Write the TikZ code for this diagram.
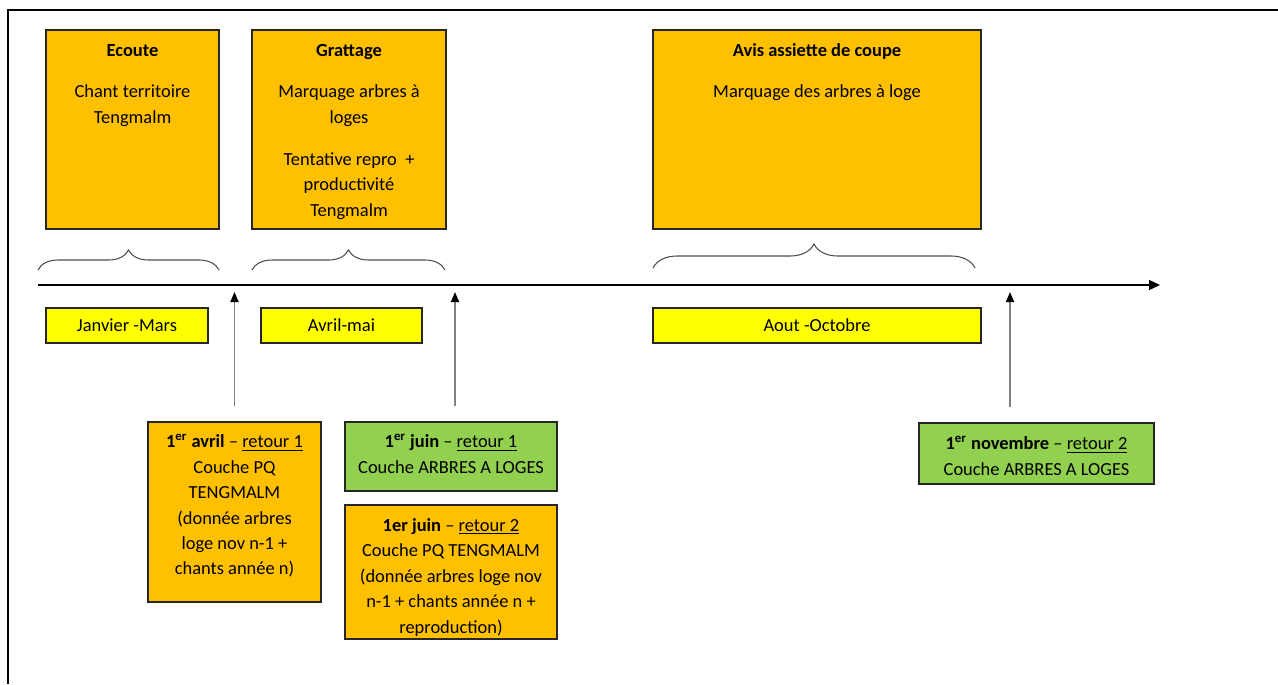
\documentclass[tikz,border=0pt]{standalone}
\usepackage{fontspec}
\setmainfont{Carlito}
\usetikzlibrary{positioning,fit,arrows.meta,decorations.pathreplacing}
\definecolor{orangebox}{HTML}{FFC000}
\definecolor{yellowbox}{HTML}{FFFF00}
\definecolor{greenbox}{HTML}{92D050}
\tikzset{
  box/.style={draw=black!85, line width=0.7pt, inner sep=0pt},
  obox/.style={box, fill=orangebox},
  ybox/.style={box, fill=yellowbox, minimum height=0.7cm, font=\fontsize{10.5}{14.5}\selectfont},
  gbox/.style={box, fill=greenbox},
  txt/.style={inner sep=0pt, align=center, font=\fontsize{10.5}{14.5}\selectfont},
  brc/.style={decorate, decoration={brace, amplitude=#1}, draw=black!70, line width=0.6pt},
  uparrow/.style={draw=gray, line width=1pt, -{Triangle[length=0.2cm, width=0.16cm, color=black]},
    shorten <=0.3cm, shorten >=0.14cm}
}
\begin{document}
\begin{tikzpicture}[x=0.02cm, y=-0.02cm]
\useasboundingbox (0,0) rectangle (1278,684);
\draw[line width=1.2pt] (8,684) -- (8,10) -- (1278,10);

% activites
\node[obox, fit={(46,30) (219,229)}] (ecoute) {};
\node[txt, below=0.18cm of ecoute.north] (ecouteT)
  {\strut\textbf{Ecoute}\\[9pt] Chant territoire\\Tengmalm};
\node[obox, fit={(252,30) (446,229)}] (grattage) {};
\node[txt, below=0.18cm of grattage.north] (grattageT)
  {\strut\textbf{Grattage}\\[9pt] Marquage arbres à\\loges\\[9.5pt] Tentative repro\ \ +\\productivité\\Tengmalm};
\node[obox, fit={(653,30) (981,229)}] (avis) {};
\node[txt, below=0.18cm of avis.north] (avisT)
  {\strut\textbf{Avis assiette de coupe}\\[9pt] Marquage des arbres à loge};

% accolades
\draw[brc=0.4cm] (38,270) -- (219,270);
\draw[brc=0.4cm] (252,270) -- (445,270);
\draw[brc=0.48cm] (653,268) -- (975,268);

% frise
\coordinate (tl0) at (38,285);
\coordinate (tl1) at (1160,285);
\draw[line width=0.8pt, -{Triangle[length=0.22cm, width=0.2cm]}] (tl0) -- (tl1);

% periodes
\node[ybox, minimum width=3.24cm] (janmars) at (127,325.5) {Janvier -Mars};
\node[ybox, minimum width=3.22cm] (avrmai) at (341.5,325.5) {Avril-mai};
\node[ybox, minimum width=6.56cm] (aoutoct) at (817,325.5) {Aout -Octobre};

% retours
\node[obox, fit={(148,422) (321,602)}] (avril) {};
\node[txt, below=0.25cm of avril.north] (avrilT)
  {\textbf{1\textsuperscript{er} avril} -- \underline{retour 1}\\Couche PQ\\TENGMALM\\(donnée arbres\\loge nov n-1 +\\chants année n)};
\node[gbox, fit={(345,422) (557,491)}] (juinA) {};
\node[txt, below=0.25cm of juinA.north] (juinAT)
  {\textbf{1\textsuperscript{er} juin} -- \underline{retour 1}\\Couche ARBRES A LOGES};
\node[obox, fit={(345,505) (557,639)}] (juinB) {};
\node[txt, below=0.27cm of juinB.north] (juinBT)
  {\textbf{1er juin} -- \underline{retour 2}\\Couche PQ TENGMALM\\(donnée arbres loge nov\\n-1 + chants année n +\\reproduction)};
\node[gbox, fit={(919,423) (1154,484)}] (nov) {};
\node[txt, below=0.27cm of nov.north] (novT)
  {\textbf{1\textsuperscript{er} novembre} -- \underline{retour 2}\\Couche ARBRES A LOGES};

\draw[uparrow] (avril.north) -- (avril.north |- tl0);
\draw[uparrow] ([xshift=0.08cm]juinA.north) -- ([xshift=0.08cm]juinA.north |- tl0);
\draw[uparrow] ([xshift=-0.53cm]nov.north) -- ([xshift=-0.53cm]nov.north |- tl0);
\end{tikzpicture}
\end{document}
